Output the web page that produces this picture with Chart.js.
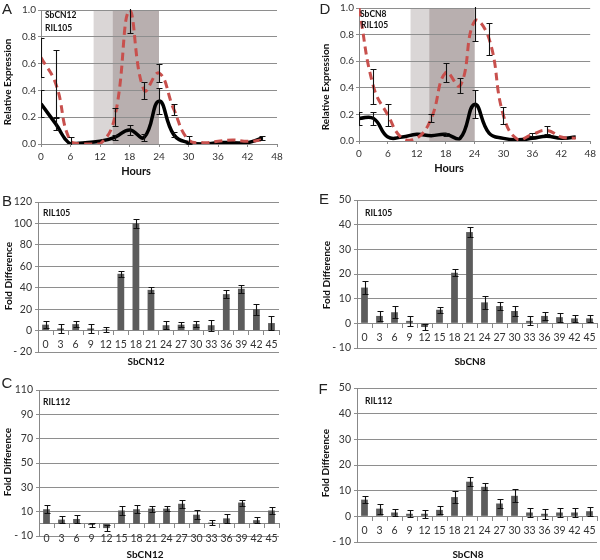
<!DOCTYPE html>
<html><head><meta charset="utf-8">
<script src="https://cdn.jsdelivr.net/npm/chart.js@4"></script>
<style>
html,body{margin:0;padding:0;background:#fff;}
body{width:600px;height:560px;position:relative;overflow:hidden;font-family:Lato,sans-serif;}
.pane{position:absolute;}
.pane canvas{display:block;}
.t{position:absolute;transform:translate(-50%,-50%);white-space:nowrap;color:#111;line-height:1;}
.letter{font-family:'Liberation Sans',Arial,sans-serif;font-size:15px;color:#222;}
.ax{font-weight:bold;font-size:10px;}
.hrs{font-weight:bold;font-size:11px;}
.rot{transform:translate(-50%,-50%) rotate(-90deg);}
.inner{position:absolute;font-weight:bold;font-size:8.5px;line-height:1;color:#111;white-space:nowrap;}
</style></head>
<body>
<div class="pane" style="left:0;top:0;width:290px;height:180px"><canvas id="cA" width="290" height="180"></canvas></div>
<div class="pane" style="left:300px;top:0;width:300px;height:180px"><canvas id="cD" width="300" height="180"></canvas></div>
<div class="pane" style="left:0;top:180px;width:290px;height:190px"><canvas id="cB" width="290" height="190"></canvas></div>
<div class="pane" style="left:300px;top:180px;width:300px;height:190px"><canvas id="cE" width="300" height="190"></canvas></div>
<div class="pane" style="left:0;top:370px;width:290px;height:190px"><canvas id="cC" width="290" height="190"></canvas></div>
<div class="pane" style="left:300px;top:370px;width:300px;height:190px"><canvas id="cF" width="300" height="190"></canvas></div>

<div class="t letter" style="left:7px;top:8px">A</div>
<div class="t letter" style="left:325px;top:8px">D</div>
<div class="t letter" style="left:7px;top:200px">B</div>
<div class="t letter" style="left:324px;top:198px">E</div>
<div class="t letter" style="left:7px;top:382px">C</div>
<div class="t letter" style="left:323px;top:388px">F</div>

<div class="t ax rot" style="left:7px;top:82px">Relative Expression</div>
<div class="t ax rot" style="left:325px;top:87px">Relative Expression</div>
<div class="t ax rot" style="left:8px;top:276px">Fold Difference</div>
<div class="t ax rot" style="left:326px;top:275px">Fold Difference</div>
<div class="t ax rot" style="left:7px;top:462px">Fold Difference</div>
<div class="t ax rot" style="left:325px;top:463px">Fold Difference</div>

<div class="t hrs" style="left:136px;top:170px">Hours</div>
<div class="t hrs" style="left:449px;top:167px">Hours</div>
<div class="t ax" style="left:146px;top:361px">SbCN12</div>
<div class="t ax" style="left:470px;top:361px">SbCN8</div>
<div class="t ax" style="left:145px;top:554px">SbCN12</div>
<div class="t ax" style="left:468px;top:554px">SbCN8</div>

<div class="inner" style="left:45px;top:11px">SbCN12</div>
<div class="inner" style="left:45px;top:24px">RIL105</div>
<div class="inner" style="left:360px;top:10px">SbCN8</div>
<div class="inner" style="left:361px;top:21px">RIL105</div>
<div class="inner" style="left:43px;top:209px">RIL105</div>
<div class="inner" style="left:365px;top:209px">RIL105</div>
<div class="inner" style="left:43px;top:398px">RIL112</div>
<div class="inner" style="left:365px;top:397px">RIL112</div>

<script>
// ---- data ----
const hours = [0,3,6,9,12,15,18,21,24,27,30,33,36,39,42,45];
const timeLabels = ['0','3','6','9','12','15','18','21','24','27','30','33','36','39','42','45'];
const lightBand = [10.7, 24];
const darkBand = [14.6, 24];

// Panel A (SbCN12)
const aBlack    = [0.30,0.15,0.00,0.01,0.02,0.05,0.105,0.05,0.32,0.07,0.01,0.00,0.01,0.01,0.01,0.045];
const aBlackErr = [0.10,0.045,0,0,0,0.018,0.035,0.025,0.095,0.02,0,0,0,0,0,0.015];
const aRed      = [0.645,0.45,0.02,0.00,0.00,0.20,1.00,0.40,0.53,0.26,0.03,0.01,0.02,0.03,0.02,0.03];
const aRedErr   = [0.145,0.25,0.035,0,0,0.065,0.17,0.065,0.07,0.04,0.03,0,0,0,0,0];

// Panel D (SbCN8)
const dBlack    = [0.17,0.17,0.03,0.03,0.05,0.04,0.05,0.02,0.275,0.06,0.02,0.01,0.02,0.035,0.02,0.03];
const dBlackErr = [0.048,0.05,0,0,0,0,0.012,0,0.105,0,0,0,0,0,0,0];
const dRed      = [1.00,0.41,0.195,0.02,0.02,0.17,0.515,0.415,0.90,0.77,0.19,0.01,0.05,0.08,0.03,0.02];
const dRedErr   = [0,0.13,0.085,0,0,0.03,0.075,0.055,0.15,0.12,0.063,0,0.012,0.03,0,0];

// Panel B (SbCN12, RIL105)
const bVals = [5.5,2,6,2,1,53,100,38,5,5.5,6,5,34,39,20,7];
const bErr  = [3,4.5,3,4.5,2,3,4,3,3.5,2.5,3,5,3.5,4,5,6.5];
// Panel C (SbCN12, RIL112)
const cVals = [12,3.5,4,-1,-3.5,11,12,12.5,12.5,16.5,7.5,1,4.5,17.5,3,11];
const cErr  = [3.5,3,3,2,2.5,4,3.5,2.5,2,3.5,3.5,2,3.5,2.5,2.5,3];
// Panel E (SbCN8, RIL105)
const eVals = [14.5,3,4.5,1,-1.5,5.5,20.5,37,8.5,7,5,1,3,2.5,2,2];
const eErr  = [2.5,2,2.5,2,1.2,1.3,1.5,2.2,2.5,1.5,2,1.8,1.5,1.8,1.5,1.5];
// Panel F (SbCN8, RIL112)
const fVals = [6.5,3,1.5,1,1,2.5,7.5,13.5,11.5,5,8,1.5,1,1.5,1.5,2];
const fErr  = [1.3,2,1.5,1.3,1.5,1.5,2.3,1.8,1.4,1.7,2.5,1.8,2,1.8,1.8,1.7];

// ---- styling / plugins ----
Chart.defaults.font.family = 'Lato, sans-serif';
Chart.defaults.font.size = 10;
Chart.defaults.color = '#333';

const errorBars = {
  id: 'errorBars',
  afterDatasetsDraw(chart) {
    const {ctx, chartArea: a} = chart;
    const y = chart.scales.y;
    ctx.save();
    ctx.beginPath();
    ctx.rect(a.left, a.top - 1, a.right - a.left, a.bottom - a.top + 2);
    ctx.clip();
    ctx.strokeStyle = '#111';
    ctx.lineWidth = 1.1;
    chart.data.datasets.forEach((ds, i) => {
      if (!ds.errors) return;
      const meta = chart.getDatasetMeta(i);
      const cap = ds.capWidth || 3;
      meta.data.forEach((el, j) => {
        const e = ds.errors[j];
        if (!e) return;
        const d = ds.data[j];
        const v = (typeof d === 'object') ? d.y : d;
        const x = Math.round(el.x) + 0.5;
        const y1 = Math.round(y.getPixelForValue(v + e)) + 0.5;
        const y2 = Math.round(y.getPixelForValue(v - e)) + 0.5;
        ctx.beginPath();
        ctx.moveTo(x, y1); ctx.lineTo(x, y2);
        ctx.moveTo(x - cap, y1); ctx.lineTo(x + cap, y1);
        ctx.moveTo(x - cap, y2); ctx.lineTo(x + cap, y2);
        ctx.stroke();
      });
    });
    ctx.restore();
  }
};

const bands = {
  id: 'bands',
  beforeDraw(chart) {
    const {ctx, chartArea: a} = chart;
    const x = chart.scales.x;
    const fillBand = (r, c) => {
      const x1 = x.getPixelForValue(r[0]), x2 = x.getPixelForValue(r[1]);
      ctx.fillStyle = c;
      ctx.fillRect(x1, a.top, x2 - x1, a.bottom - a.top);
    };
    ctx.save();
    fillBand(lightBand, '#dad6d6');
    fillBand(darkBand, '#b8afaf');
    ctx.restore();
  }
};

function makeLine(id, black, blackErr, red, redErr, pad, yW, xH) {
  new Chart(document.getElementById(id), {
    type: 'line',
    data: {
      datasets: [
        {data: hours.map((h, i) => ({x: h, y: red[i]})), errors: redErr, borderColor: '#c8504d',
         borderDash: [8, 5], borderWidth: 3, pointRadius: 0, tension: 0.45, order: 0, fill: false, capWidth: 3},
        {data: hours.map((h, i) => ({x: h, y: black[i]})), errors: blackErr, borderColor: '#000',
         borderWidth: 3.5, pointRadius: 0, tension: 0.45, order: 1, fill: false, capWidth: 3}
      ]
    },
    options: {
      responsive: false, animation: false, devicePixelRatio: 1,
      layout: {padding: pad},
      plugins: {legend: {display: false}, tooltip: {enabled: false}},
      scales: {
        x: {type: 'linear', min: 0, max: 48,
            ticks: {stepSize: 6, padding: 4},
            grid: {drawOnChartArea: false, tickLength: 3, color: '#888'},
            border: {color: '#888'},
            afterFit(s) { s.height = xH; }},
        y: {min: 0, max: 1,
            ticks: {stepSize: 0.2, padding: 2, callback: v => v.toFixed(1)},
            grid: {color: '#8e8e8e', tickLength: 3},
            border: {color: '#888'},
            afterFit(s) { s.width = yW; }}
      }
    },
    plugins: [bands, errorBars]
  });
}

function makeBar(id, vals, errs, yMin, yMax, step, pad, yW) {
  new Chart(document.getElementById(id), {
    type: 'bar',
    data: {
      labels: timeLabels,
      datasets: [{data: vals, errors: errs, backgroundColor: '#5c5c5c', borderWidth: 0,
                  categoryPercentage: 1, barPercentage: 0.45, capWidth: 3}]
    },
    options: {
      responsive: false, animation: false, devicePixelRatio: 1,
      layout: {padding: pad},
      plugins: {legend: {display: false}, tooltip: {enabled: false}},
      scales: {
        x: {position: {y: 0},
            ticks: {padding: 4, autoSkip: false, maxRotation: 0, font: {size: 10.5}},
            grid: {drawOnChartArea: false, tickLength: 4, color: '#888', offset: true},
            border: {color: '#888'}},
        y: {min: yMin, max: yMax,
            ticks: {stepSize: step, padding: 3, font: {size: 10.5},
                    callback: v => v < 0 ? '- ' + Math.abs(v) : String(v)},
            grid: {color: '#8e8e8e', tickLength: 3},
            border: {color: '#888'},
            afterFit(s) { s.width = yW; }}
      }
    },
    plugins: [errorBars]
  });
}

makeLine('cA', aBlack, aBlackErr, aRed, aRedErr, {top: 10, right: 13, left: 0, bottom: 0}, 41, 36);
makeLine('cD', dBlack, dBlackErr, dRed, dRedErr, {top: 7, right: 5, left: 0, bottom: 0}, 59, 39);
makeBar('cB', bVals, bErr, -20, 120, 20, {top: 22, right: 11, left: 0, bottom: 18}, 38);
makeBar('cE', eVals, eErr, -10, 50, 10, {top: 20, right: 3, left: 0, bottom: 22}, 57);
makeBar('cC', cVals, cErr, -10, 110, 20, {top: 20, right: 11, left: 0, bottom: 24}, 39);
makeBar('cF', fVals, fErr, -10, 50, 10, {top: 18, right: 3, left: 0, bottom: 18}, 57);
</script>
</body></html>
